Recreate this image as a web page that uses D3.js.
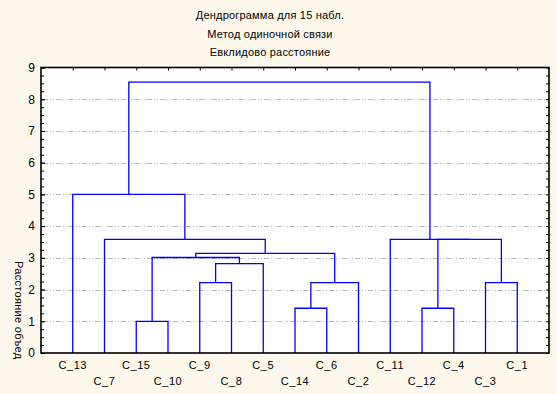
<!DOCTYPE html>
<html>
<head>
<meta charset="utf-8">
<script src="https://cdn.jsdelivr.net/npm/d3@7"></script>
<style>
  html, body { margin: 0; padding: 0; background: #fef8ec; }
  svg { display: block; font-family: "Liberation Sans", Arial, sans-serif; }
</style>
</head>
<body>
<svg id="chart" width="557" height="394"></svg>
<script>
const titles = ["Дендрограмма для 15 набл.", "Метод одиночной связи", "Евклидово расстояние"];
const yLabel = "Расстояние объед";

const leaves = ["C_13", "C_7", "C_15", "C_10", "C_9", "C_8", "C_5", "C_14", "C_6", "C_2", "C_11", "C_12", "C_4", "C_3", "C_1"];

// merges: "#k" refers to the cluster made by merge k
const mergeLeft   = ["C_15", "C_14", "C_12", "C_9", "#1",  "C_3", "#3",  "#0",  "#7",  "#2",  "C_11", "C_7", "C_13", "#12"];
const mergeRight  = ["C_10", "C_6",  "C_4",  "C_8", "C_2", "C_1", "C_5", "#6",  "#4",  "#5",  "#9",   "#8",  "#11",  "#10"];
const mergeHeight = [1.00,   1.41,   1.41,   2.22,  2.22,  2.22,  2.82,  3.01,  3.14,  3.58,  3.58,   3.58,  5.00,   8.54];

const yTicks = [0, 1, 2, 3, 4, 5, 6, 7, 8, 9];

const svg = d3.select("#chart");
const pLeft = 41, pRight = 549, pTop = 67.5, pBottom = 353;

const x = d3.scalePoint().domain(leaves).range([pLeft, pRight]).padding(1);
const y = d3.scaleLinear().domain([0, 9]).range([pBottom, pTop]);

// plot background
svg.append("rect")
  .attr("x", pLeft).attr("y", pTop)
  .attr("width", pRight - pLeft).attr("height", pBottom - pTop)
  .attr("fill", "#fff");

// grid
svg.append("g")
  .selectAll("line")
  .data(yTicks.filter(d => d > 0 && d < 9))
  .join("line")
  .attr("x1", pLeft + 2).attr("x2", pRight - 3)
  .attr("y1", d => Math.round(y(d)) + 0.5).attr("y2", d => Math.round(y(d)) + 0.5)
  .attr("stroke", "#b8b8b8")
  .attr("stroke-dasharray", "5,2,1,2,1,2");

// titles
svg.append("g")
  .selectAll("text")
  .data(titles)
  .join("text")
  .attr("x", 270)
  .attr("y", (d, i) => 19 + i * 18.6)
  .attr("text-anchor", "middle")
  .attr("font-size", 11)
  .attr("letter-spacing", 0.2)
  .attr("fill", "#000")
  .text(d => d);

// dendrogram
const pos = {};
leaves.forEach(l => pos[l] = { x: x(l), h: 0 });

const links = mergeHeight.map((h, i) => {
  const a = pos[mergeLeft[i]], b = pos[mergeRight[i]];
  pos["#" + i] = { x: (a.x + b.x) / 2, h };
  return `M${a.x},${y(a.h)}V${y(h)}H${b.x}V${y(b.h)}`;
});

svg.append("g")
  .selectAll("path")
  .data(links)
  .join("path")
  .attr("d", d => d)
  .attr("fill", "none")
  .attr("stroke", "#0000ff")
  .attr("stroke-width", 1.3);

// axes
const minor = d3.range(0, 9.001, 0.25);

svg.append("g")
  .attr("transform", `translate(${pLeft},0)`)
  .call(d3.axisLeft(y).tickValues(minor).tickSizeInner(-3).tickSizeOuter(0).tickFormat(""))
  .call(g => g.select(".domain").remove());

svg.append("g")
  .attr("transform", `translate(${pLeft},0)`)
  .call(d3.axisLeft(y).tickValues(yTicks).tickSizeInner(-4).tickSizeOuter(0).tickPadding(6).tickFormat(d3.format("d")))
  .call(g => g.select(".domain").remove())
  .call(g => g.selectAll("text").attr("font-size", 12).attr("fill", "#000").attr("font-family", "Liberation Sans, Arial, sans-serif"));

svg.append("g")
  .attr("transform", `translate(${pRight},0)`)
  .call(d3.axisRight(y).tickValues(minor).tickSizeInner(-3).tickSizeOuter(0).tickFormat(""))
  .call(g => g.select(".domain").remove());

svg.append("g")
  .attr("transform", `translate(0,${pTop})`)
  .call(d3.axisTop(x).tickSizeInner(-3).tickSizeOuter(0).tickFormat(""))
  .call(g => g.select(".domain").remove());

// frame
svg.append("rect")
  .attr("x", pLeft).attr("y", pTop)
  .attr("width", pRight - pLeft).attr("height", pBottom - pTop)
  .attr("fill", "none")
  .attr("stroke", "#000")
  .attr("stroke-width", 1.6);

// leaf labels (staggered)
svg.append("g")
  .selectAll("text")
  .data(leaves)
  .join("text")
  .attr("x", d => x(d))
  .attr("y", (d, i) => i % 2 === 0 ? 369 : 385)
  .attr("text-anchor", "middle")
  .attr("font-size", 11)
  .attr("letter-spacing", 0.6)
  .attr("fill", "#000")
  .text(d => d);

// y axis title
svg.append("text")
  .attr("transform", "translate(15,261) rotate(90)")
  .attr("font-size", 11)
  .attr("letter-spacing", 0.3)
  .attr("fill", "#000")
  .text(yLabel);
</script>
</body>
</html>
